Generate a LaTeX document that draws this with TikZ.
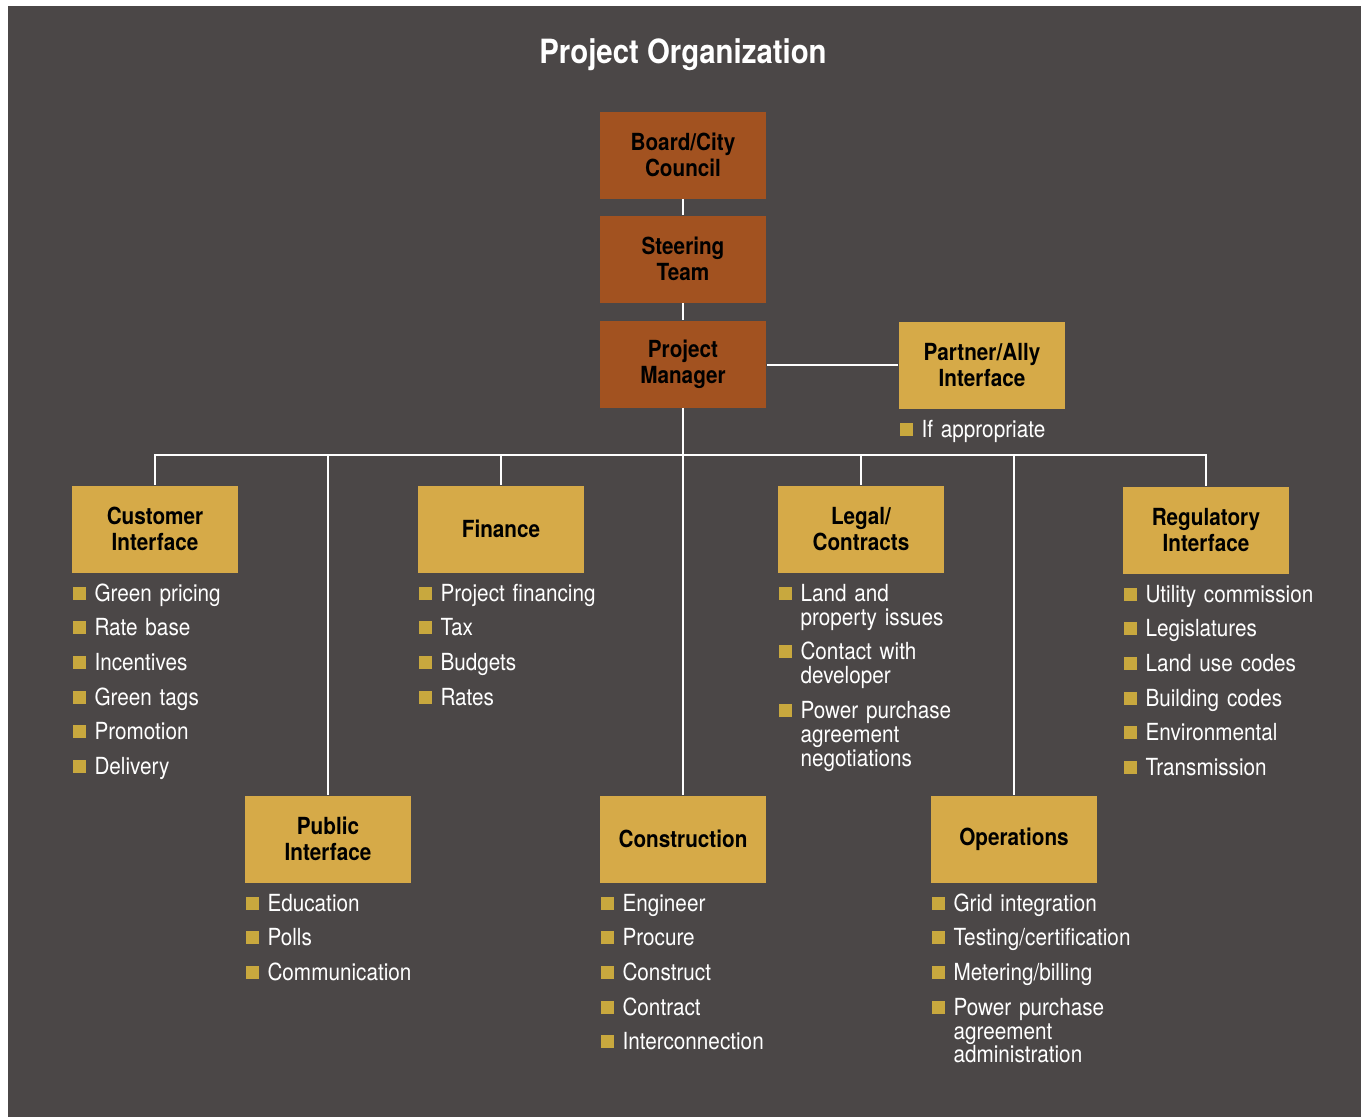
\documentclass[tikz,border=0pt]{standalone}
\usepackage{fontspec}
\setmainfont{TeX Gyre Heros}[FakeStretch=0.88]
\usetikzlibrary{positioning}
\definecolor{slate}{RGB}{75,71,71}
\definecolor{rust}{RGB}{162,82,32}
\definecolor{ochre}{RGB}{214,170,72}
\definecolor{bulletgold}{RGB}{200,168,62}

% one bullet entry of a task list
\newcommand{\itm}{\par\hangindent=0.44cm\hangafter=1\noindent\makebox[0.44cm][l]{\textcolor{bulletgold}{\rule[0.03cm]{0.26cm}{0.26cm}}}}
\newcommand{\listfont}{\fontsize{13.4}{13.6}\selectfont\setlength{\parskip}{6.1pt}\setlength{\parindent}{0pt}}

\begin{document}
\begin{tikzpicture}[x=0.02cm, y=-0.02cm,
    lead/.style={rectangle, fill=rust, minimum width=3.34cm, minimum height=1.74cm, align=center, inner sep=2pt, font=\bfseries\fontsize{13.4}{14.7}\selectfont},
    unit/.style={lead, fill=ochre},
    items/.style={anchor=north west, text width=4.4cm, inner sep=0pt, align=left, text=white, font=\listfont, yshift=0.13cm, xshift=0.02cm},
    link/.style={draw=white, line width=1.3pt}]

\useasboundingbox (0,0) rectangle (1366,1117);
\fill[white] (0,0) rectangle (1366,1117);
\fill[slate] (8,6) rectangle (1361,1117);

\node[text=white, font=\bfseries\fontsize{19}{22}\selectfont] (title) at (683,55) {Project Organization};

\node[lead] (board) at (683,155) {Board/City\\Council};
\node[lead] (steer) at (683,259) {Steering\\Team};
\node[lead] (pm) at (683,364) {Project\\Manager};
\node[unit] (partner) at (982,365) {Partner/Ally\\Interface};

\node[unit] (cust) at (155,529) {Customer\\Interface};
\node[unit] (fin) at (501,529) {Finance};
\node[unit] (legal) at (861,529) {Legal/\\Contracts};
\node[unit] (reg) at (1206,530) {Regulatory\\Interface};
\node[unit] (pub) at (328,839) {Public\\Interface};
\node[unit] (con) at (683,839) {Construction};
\node[unit] (ops) at (1014,839) {Operations};

\draw[link] (board) -- (steer);
\draw[link] (steer) -- (pm);
\draw[link] (pm.east |- partner) -- (partner);
\draw[link] (pm) -- (con);

\coordinate (hub) at (683,455);
\foreach \n in {cust,pub,fin,legal,ops,reg}
  \draw[link] (\n.north) |- (hub);

\node[items] (partnerlist) at (partner.south west) {\itm If appropriate};
\node[items] (custlist) at (cust.south west) {\itm Green pricing \itm Rate base \itm Incentives \itm Green tags \itm Promotion \itm Delivery};
\node[items] (finlist) at (fin.south west) {\itm Project financing \itm Tax \itm Budgets \itm Rates};
\node[items] (legallist) at (legal.south west) {\itm Land and\newline property issues \itm Contact with\newline developer \itm Power purchase\newline agreement\newline negotiations\par};
\node[items] (reglist) at (reg.south west) {\itm Utility commission \itm Legislatures \itm Land use codes \itm Building codes \itm Environmental \itm Transmission};
\node[items] (publist) at (pub.south west) {\itm Education \itm Polls \itm Communication};
\node[items] (conlist) at (con.south west) {\itm Engineer \itm Procure \itm Construct \itm Contract \itm Interconnection};
\node[items] (opslist) at (ops.south west) {\itm Grid integration \itm Testing/certification \itm Metering/billing \itm Power purchase\newline agreement\newline administration\par};

\end{tikzpicture}
\end{document}
